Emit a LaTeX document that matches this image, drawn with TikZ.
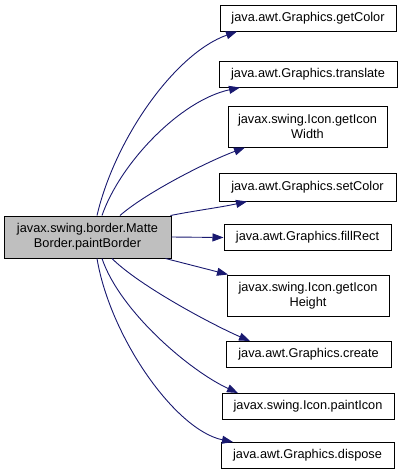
\documentclass[tikz,border=0pt]{standalone}
\usepackage{fontspec}
\setmainfont{Liberation Sans}
\usetikzlibrary{arrows.meta}
\definecolor{edgeblue}{RGB}{25,25,112}
\definecolor{maingray}{RGB}{191,191,191}

\begin{document}
\begin{tikzpicture}[
    x=1pt, y=1pt,
    font=\fontsize{12.75}{15}\selectfont,
    box/.style={draw=black, line width=1pt, align=center, inner sep=0pt,
                fill=white, minimum height=26pt},
    twoline/.style={box, minimum height=41pt},
    arr/.style={-{Triangle[length=11pt,width=8pt]}, line width=0.9pt, edgeblue}
  ]
  \useasboundingbox (0,0) rectangle (403,-475);
  \node[box, fill=maingray, minimum width=167pt, minimum height=42pt] (main) at (87.5,-237)
    {javax.swing.border.Matte\\Border.paintBorder};
  \node[box, minimum width=176pt] (getc) at (308,-18) {java.awt.Graphics.getColor};
  \node[box, minimum width=178pt] (trans) at (308,-74) {java.awt.Graphics.translate};
  \node[twoline, minimum width=159pt] (iconw) at (307.5,-126.5) {javax.swing.Icon.getIcon\\Width};
  \node[box, minimum width=177pt, minimum height=28pt] (setc) at (307.5,-187) {java.awt.Graphics.setColor};
  \node[box, minimum width=167pt] (fillr) at (307.5,-237.5) {java.awt.Graphics.fillRect};
  \node[twoline, minimum width=162pt] (iconh) at (308,-295.5) {javax.swing.Icon.getIcon\\Height};
  \node[box, minimum width=165pt] (create) at (308.5,-354.5) {java.awt.Graphics.create};
  \node[box, minimum width=172pt] (paint) at (308,-406.5) {javax.swing.Icon.paintIcon};
  \node[box, minimum width=173pt] (disp) at (307.5,-455.5) {java.awt.Graphics.dispose};
  % calls above the box
  \draw[arr] ([xshift=9.5pt]main.north) .. controls +(18,77) and +(-62,-22) .. ([xshift=-71pt]getc.south);
  \draw[arr] ([xshift=14.5pt]main.north) .. controls +(18,52) and +(-60,-13) .. ([xshift=-68pt]trans.south);
  \draw[arr] ([xshift=32.5pt]main.north) .. controls +(25,22) and +(-40,-15) .. ([xshift=-62.5pt]iconw.south);
  \draw[arr] ([xshift=-1pt]main.north east) .. controls +(25,5) and +(-27,-6) .. ([xshift=-60.5pt]setc.south);
  \draw[arr] (main.east) -- (fillr.west);
  % calls below the box
  \draw[arr] ([xshift=-6pt]main.south east) -- ([xshift=-80pt]iconh.north);
  \draw[arr] ([xshift=24.5pt]main.south) .. controls +(28,-28) and +(-35,15) .. ([xshift=-58.5pt]create.north);
  \draw[arr] ([xshift=14.5pt]main.south) .. controls +(18,-53) and +(-48,22) .. ([xshift=-70pt]paint.north);
  \draw[arr] ([xshift=9.5pt]main.south) .. controls +(13,-78) and +(-58,12) .. ([xshift=-74.5pt]disp.north);
\end{tikzpicture}
\end{document}
